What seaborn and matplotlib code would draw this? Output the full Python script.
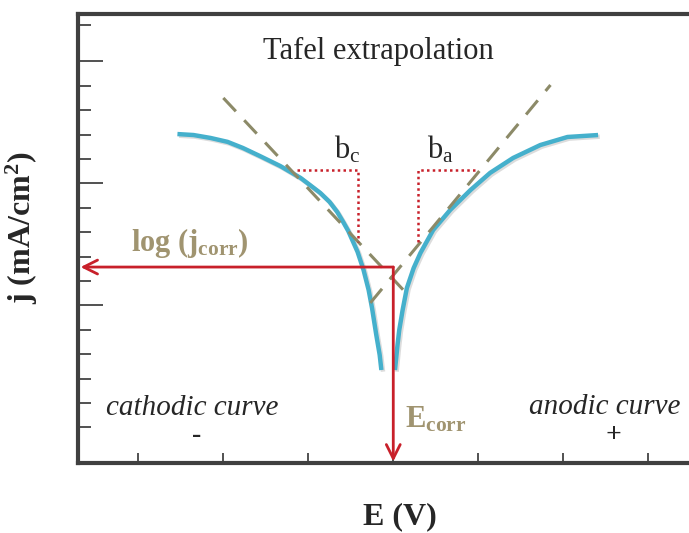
import matplotlib
matplotlib.use("Agg")
import matplotlib.pyplot as plt
import matplotlib.patheffects as pe
import pandas as pd
import seaborn as sns

# cathodic branch (E, log j)
cat_E = [-2.54, -2.35, -2.15, -1.95, -1.77, -1.57, -1.33, -1.09, -0.98, -0.86,
         -0.75, -0.66, -0.59, -0.53, -0.42, -0.35, -0.29, -0.25, -0.20, -0.16,
         -0.14]
cat_logj = [6.02, 5.98, 5.86, 5.70, 5.45, 5.12, 4.71, 4.22, 3.93, 3.61,
            3.24, 2.83, 2.42, 2.05, 1.19, 0.45, -0.37, -1.11, -2.21, -3.03,
            -3.65]

# anodic branch
ano_E = [0.02, 0.05, 0.07, 0.11, 0.16, 0.24, 0.32, 0.47, 0.67, 0.91,
         1.14, 1.41, 1.73, 2.05, 2.41]
ano_logj = [-3.65, -2.62, -2.02, -1.19, -0.29, 0.53, 1.15, 2.09, 2.91, 3.73,
            4.43, 5.04, 5.57, 5.90, 5.98]

# Tafel lines (end points)
tafel_c_E = [-2.00, 0.14]
tafel_c_logj = [7.50, -0.45]
tafel_a_E = [-0.27, 1.85]
tafel_a_logj = [-0.90, 8.03]

# slope triangles
bc_E = [-1.13, -0.41, -0.41]
bc_logj = [4.55, 4.55, 1.60]
ba_E = [0.29, 0.29, 1.00]
ba_logj = [1.60, 4.55, 4.55]

E_corr = 0.0
logj_corr = 0.57

x_ticks = [-3, -2, -1, 0, 1, 2, 3]
y_major = [-1, 4, 9]
y_minor = [-6, -5, -4, -3, -2, 0, 1, 2, 3, 5, 6, 7, 8, 10.5]

sns.set_theme(style="white")
plt.rcParams["font.family"] = ["Liberation Serif", "DejaVu Serif"]
plt.rcParams["mathtext.fontset"] = "custom"
plt.rcParams["mathtext.rm"] = "Liberation Serif"
plt.rcParams["mathtext.it"] = "Liberation Serif:italic"
plt.rcParams["mathtext.bf"] = "Liberation Serif:bold"

blue = "#45b0cc"
olive = "#8c8a68"
red = "#c8202a"
tan = "#a09470"

fig = plt.figure(figsize=(6.89, 5.33), dpi=100)
ax = fig.add_axes([78 / 689, 70 / 533, 1 - 78 / 689, 449 / 533])

shadow = [pe.SimpleLineShadow(offset=(1.2, -1.2), alpha=0.15), pe.Normal()]
cat = pd.DataFrame({"E": cat_E, "logj": cat_logj})
ano = pd.DataFrame({"E": ano_E, "logj": ano_logj})
for d in (cat, ano):
    sns.lineplot(data=d, x="E", y="logj", sort=False, ax=ax, color=blue,
                 lw=3.2, solid_capstyle="butt", solid_joinstyle="round",
                 path_effects=shadow)

for xs, ys in ((tafel_c_E, tafel_c_logj), (tafel_a_E, tafel_a_logj)):
    ax.plot(xs, ys, color=olive, lw=2.2, dashes=(6, 4))

for xs, ys in ((bc_E, bc_logj), (ba_E, ba_logj)):
    ax.plot(xs, ys, color=red, lw=1.8, ls=(0, (1, 1.3)))

# arrows from the crossing point
ax.annotate("", xy=(-3.68, logj_corr), xytext=(E_corr, logj_corr),
            arrowprops=dict(arrowstyle="->", color=red, lw=2, mutation_scale=25,
                            shrinkA=0, shrinkB=0))
ax.annotate("", xy=(E_corr, -7.40), xytext=(E_corr, logj_corr),
            arrowprops=dict(arrowstyle="->", color=red, lw=2, mutation_scale=25,
                            shrinkA=0, shrinkB=0))

ax.text(-0.18, 9.39, "Tafel extrapolation", ha="center", va="center", fontsize=22)
ax.text(-0.54, 5.37, r"$\mathrm{b_c}$", ha="center", va="center", fontsize=22)
ax.text(0.55, 5.37, r"$\mathrm{b_a}$", ha="center", va="center", fontsize=22)
ax.text(-2.39, 1.56, r"$\mathbf{log\ (j_{corr})}$", ha="center", va="center",
        fontsize=22, color=tan)
ax.text(0.14, -5.70, r"$\mathbf{E_{corr}}$", ha="left", va="center",
        fontsize=22, color=tan)
ax.text(-2.37, -5.20, "cathodic curve", ha="center", va="center", fontsize=21,
        style="italic")
ax.text(-2.31, -6.35, "-", ha="center", va="center", fontsize=20, weight="bold")
ax.text(2.49, -5.16, "anodic curve", ha="center", va="center", fontsize=21,
        style="italic")
ax.text(2.59, -6.35, "+", ha="center", va="center", fontsize=20, weight="bold")

ax.set_xlim(-3.71, 3.48)
ax.set_ylim(-7.46, 10.94)
ax.set_xticks(x_ticks)
ax.set_yticks(y_major)
ax.set_yticks(y_minor, minor=True)
ax.set_xticklabels([])
ax.set_yticklabels([])
ax.tick_params(axis="x", direction="in", length=7, width=1.1, color="#222222",
               bottom=True)
ax.tick_params(axis="y", which="major", direction="in", length=18, width=1.1,
               color="#222222", left=True)
ax.tick_params(axis="y", which="minor", direction="in", length=9.5, width=1.1,
               color="#222222", left=True)

for s in ("left", "bottom", "top"):
    ax.spines[s].set_color("#404040")
    ax.spines[s].set_linewidth(3)
ax.spines["right"].set_visible(False)

ax.set_xlabel("E (V)", fontsize=23, weight="bold")
ax.set_ylabel(r"j (mA/cm$^\mathbf{2}$)", fontsize=23, weight="bold")
ax.xaxis.set_label_coords(0.527, -0.088)
ax.yaxis.set_label_coords(-0.062, 0.523)

fig.savefig("out.png", dpi=100)
